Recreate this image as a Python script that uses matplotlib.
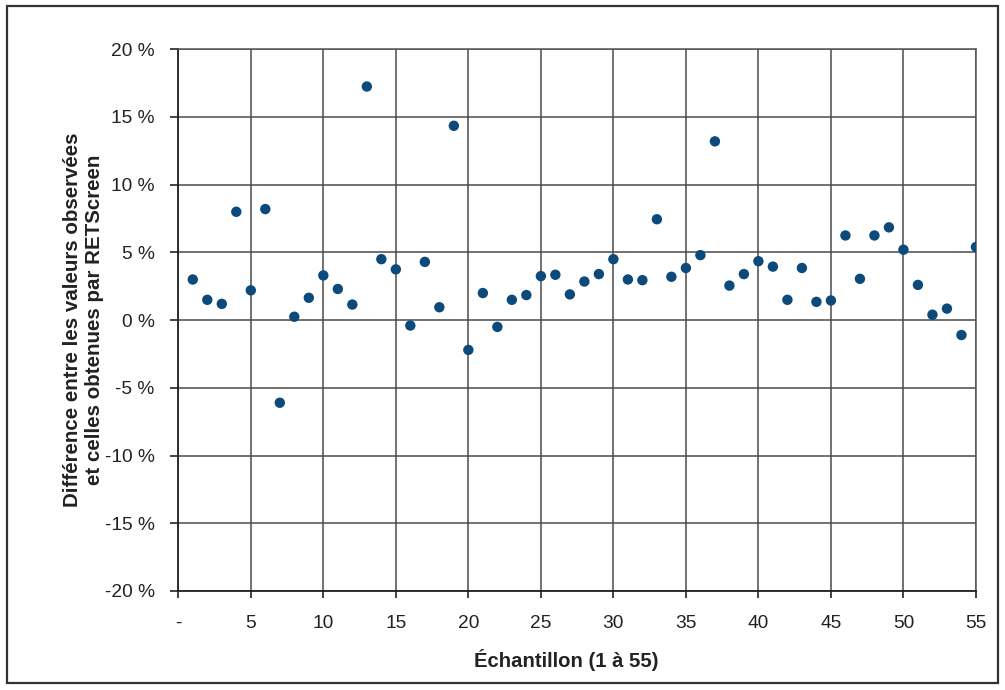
import numpy as np
import matplotlib
matplotlib.use("Agg")
from matplotlib import pyplot as plt
from matplotlib.patches import Rectangle

# sample number (1..55) and difference in %
samples = list(range(1, 56))
diff_pct = [3.0, 1.5, 1.2, 8.0, 2.2, 8.2, -6.1, 0.25, 1.65, 3.3,
            2.3, 1.15, 17.25, 4.5, 3.75, -0.4, 4.3, 0.95, 14.35, -2.2,
            2.0, -0.5, 1.5, 1.85, 3.25, 3.35, 1.9, 2.85, 3.4, 4.5,
            3.0, 2.95, 7.45, 3.2, 3.85, 4.8, 13.2, 2.55, 3.4, 4.35,
            3.95, 1.5, 3.85, 1.35, 1.45, 6.25, 3.05, 6.25, 6.85, 5.2,
            2.6, 0.4, 0.85, -1.1, 5.4]

xticks = list(range(0, 56, 5))
xticklabels = ['-'] + [str(v) for v in xticks[1:]]
yticks = list(range(-20, 21, 5))
yticklabels = ['{} %'.format(v) for v in yticks]

plt.rcParams['font.family'] = ['Liberation Sans', 'DejaVu Sans']

fig = plt.figure(figsize=(10.05, 6.9), dpi=100)
ax = fig.add_axes([0.1774, 0.1435, 0.7937, 0.7851])

# outer frame around the whole figure
fig.patches.append(Rectangle((0.007, 0.010), 0.986, 0.981, transform=fig.transFigure,
                             fill=False, edgecolor='#333333', linewidth=1.6))

ax.scatter(samples, diff_pct, s=56, color='#0b4a7b', edgecolors='none', zorder=3)

ax.set_xlim(0, 55)
ax.set_ylim(-20, 20)
ax.set_xticks(xticks)
ax.set_xticklabels(xticklabels)
ax.set_yticks(yticks)
ax.set_yticklabels(yticklabels)

ax.grid(True, color='#4a4a4a', linewidth=1.1)
ax.set_axisbelow(True)
for sp in ax.spines.values():
    sp.set_color('#555555')
    sp.set_linewidth(1.1)
ax.spines['left'].set_color('#222222')
ax.spines['bottom'].set_color('#222222')
ax.spines['left'].set_linewidth(1.3)
ax.spines['bottom'].set_linewidth(1.3)

ax.tick_params(axis='y', length=6, width=1.2, color='#222222', pad=11,
               labelsize=13.8, labelcolor='#222222')
ax.tick_params(axis='x', length=5, width=1.2, color='#222222', pad=12,
               labelsize=13.8, labelcolor='#222222')

ax.set_xlabel('Échantillon (1 à 55)', fontsize=14.6, fontweight='bold', color='#222222')
ax.xaxis.set_label_coords(0.486, -0.108)
ax.set_ylabel('Différence entre les valeurs observées\net celles obtenues par RETScreen',
              fontsize=14.8, fontweight='bold', color='#222222', linespacing=1.2)
ax.yaxis.set_label_coords(-0.093, 0.5)

fig.savefig('out.png', dpi=100)
